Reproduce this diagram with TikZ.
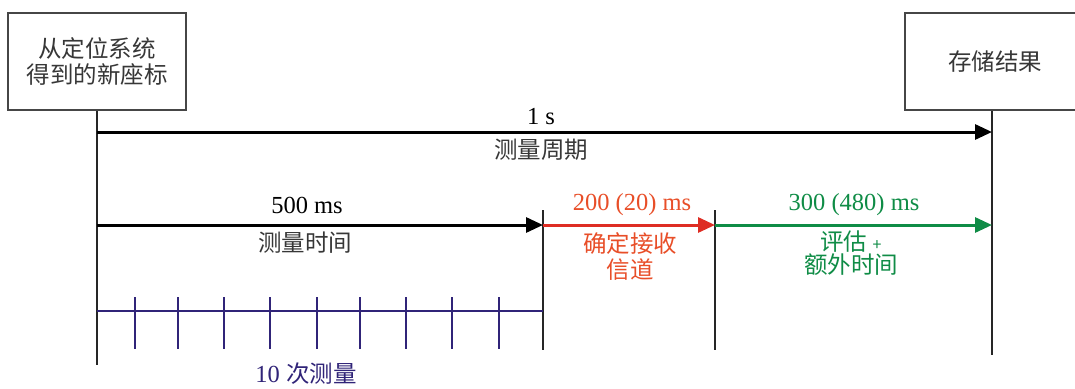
\documentclass[tikz,border=0pt]{standalone}
\usepackage{fontspec}
\setmainfont{Liberation Serif}
\newfontfamily\cjk{Noto Sans CJK SC}
\usetikzlibrary{arrows.meta}
\definecolor{boxgray}{RGB}{70,70,70}
\definecolor{txtgray}{RGB}{55,55,55}
\definecolor{myred}{RGB}{222,45,35}
\definecolor{myredtxt}{RGB}{232,78,40}
\definecolor{mygreen}{RGB}{15,140,70}
\definecolor{mynavy}{RGB}{48,36,120}
\begin{document}
\begin{tikzpicture}[x=1pt,y=-1pt,
  box/.style={draw=boxgray, line width=2pt, fill=white, minimum width=#1, minimum height=97pt,
    inner sep=0pt, align=center, text=txtgray, font=\cjk\fontsize{23.5}{26}\selectfont},
  vline/.style={draw=black!85, line width=2pt},
  arr/.style={line width=3pt, -{Triangle[length=17pt,width=15pt]}},
  num/.style={inner sep=0pt, font=\fontsize{24.5}{26}\selectfont},
  cjklab/.style={inner sep=0pt, align=center, text=txtgray, font=\cjk\fontsize{23.5}{26}\selectfont},
  tick/.style={draw=mynavy, line width=1.6pt}]
\useasboundingbox (0,0) rectangle (1075,388);
% boxes
\node[box=178pt] (L) at (97,61.5) {从定位系统\\得到的新座标};
\node[box=174pt] (R) at (992,61.5) {\hspace*{6pt}存储结果};
% end points
\coordinate (Lbot) at (97,365);
\coordinate (Rbot) at (992,355);
\coordinate (m1top) at (543,210);
\coordinate (m1bot) at (543,350);
\coordinate (m2top) at (715,210);
\coordinate (m2bot) at (715,350);
\coordinate (a1s) at (97,132);
\coordinate (a1e) at (992,132);
\coordinate (a2s) at (97,225);
\coordinate (a2m) at (543,225);
\coordinate (a2n) at (715,225);
\coordinate (a2e) at (992,225);
\coordinate (ts) at (97,311);
\coordinate (te) at (543,311);
% vertical lines
\draw[vline] (L.south) -- (Lbot);
\draw[vline] (R.south) -- (Rbot);
\draw[vline] (m1top) -- (m1bot);
\draw[vline] (m2top) -- (m2bot);
% arrows
\draw[arr, black] (a1s) -- (a1e);
\draw[arr, black] (a2s) -- (a2m);
\draw[arr, myred] (a2m) -- (a2n);
\draw[arr, mygreen] (a2n) -- (a2e);
% labels
\node[num] (l1) at (541,117) {1 s};
\node[cjklab] (l1b) at (541,150) {测量周期};
\node[num] (l2) at (307,205) {500 ms};
\node[cjklab] (l2b) at (305,243) {测量时间};
\node[num, text=myredtxt] (l3) at (632,205) {200 (20) ms};
\node[cjklab, text=myredtxt] (l3b) at (630,257) {确定接收\\信道};
\node[num, text=mygreen] (l4) at (854,205) {300 (480) ms};
\node[cjklab, text=mygreen, font=\cjk\fontsize{23.5}{20}\selectfont] (l4b) at (851,253) {评估 {\fontsize{16}{16}\selectfont +}\\额外时间};
% measurement ticks
\draw[tick] (ts) -- (te);
\foreach \x [count=\i] in {135,178,224,270,317,360,406,452,499}
  \draw[tick] (\x,297) coordinate (t\i) -- (\x,349);
\node[inner sep=0pt, text=mynavy, font=\fontsize{24.5}{26}\selectfont] (l5) at (306,374) {10 {\cjk\fontsize{23.5}{26}\selectfont 次测量}};
\end{tikzpicture}
\end{document}
